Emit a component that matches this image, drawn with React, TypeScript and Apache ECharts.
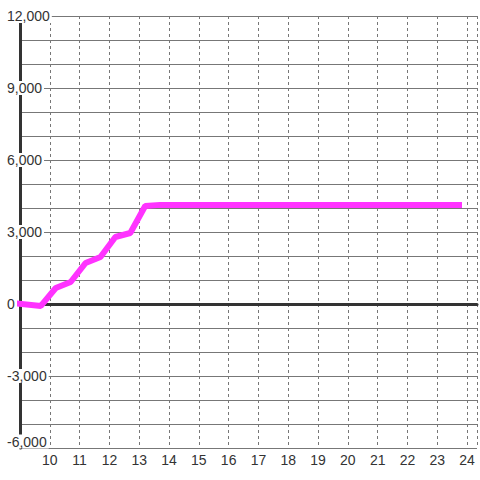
import React, { useEffect, useRef } from "react";
import * as echarts from "echarts";

// Hours of day (x) and cumulative values (y)
const hours = [8.87, 9.7, 10.2, 10.7, 11.2, 11.7, 12.2, 12.7, 13.2, 13.7, 23.83];
const values = [20, -80, 667, 917, 1708, 1958, 2792, 2958, 4083, 4130, 4125];

const xMin = 9;
const xMax = 24.333;
const xLabelHours = [10, 11, 12, 13, 14, 15, 16, 17, 18, 19, 20, 21, 22, 23, 24];
const yTickLabels = [-6000, -3000, 0, 3000, 6000, 9000, 12000];
const yMin = -6000;
const yMax = 12000;

const FONT = "'Liberation Sans', Arial, sans-serif";

export default function App() {
  const ref = useRef<HTMLDivElement>(null);
  useEffect(() => {
    if (!ref.current) return;
    const chart = echarts.init(ref.current, null, { renderer: "svg" });
    const tokenStyle = {
      fontSize: 14,
      fontFamily: FONT,
      color: "#333",
      lineHeight: 14,
      backgroundColor: "#ffffff",
      padding: [0, 2, 0, 0],
    };
    chart.setOption({
      animation: false,
      backgroundColor: "#ffffff",
      grid: { left: 20, right: 0, top: 16, bottom: 32 },
      xAxis: [
        {
          type: "value",
          position: "bottom",
          min: xMin,
          max: xMax,
          interval: 1,
          axisLine: { show: false, onZero: false },
          axisTick: { show: false },
          splitLine: {
            show: true,
            lineStyle: { color: "#777", width: 1, type: [3, 3] },
          },
          axisLabel: {
            margin: 5,
            color: "#333",
            fontSize: 14,
            fontFamily: FONT,
            formatter: (v: number) =>
              xLabelHours.indexOf(v) >= 0 ? String(v) : "",
          },
        },
        {
          type: "value",
          position: "top",
          min: xMin,
          max: xMax,
          interval: 1,
          z: 1,
          axisLine: {
            show: true,
            onZero: true,
            onZeroAxisIndex: 0,
            lineStyle: { color: "#333", width: 3 },
          },
          axisTick: { show: false },
          axisLabel: { show: false },
          splitLine: { show: false },
        },
      ],
      yAxis: {
        type: "value",
        min: yMin,
        max: yMax,
        interval: 1000,
        axisLine: { show: true, onZero: false, lineStyle: { color: "#333", width: 3 } },
        axisTick: { show: false },
        splitLine: { show: true, lineStyle: { color: "#777", width: 1 } },
        axisLabel: {
          align: "left",
          margin: 13,
          color: "#333",
          fontSize: 14,
          fontFamily: FONT,
          formatter: (v: number) => {
            if (yTickLabels.indexOf(v) < 0) return "";
            const s = v.toLocaleString("en-US");
            if (v === yMin) return "{t|" + s + "}\n{sp| }";
            return "{t|" + s + "}";
          },
          rich: {
            t: tokenStyle,
            sp: { fontSize: 10, lineHeight: 13 },
          },
        },
      },
      series: [
        {
          type: "line",
          xAxisIndex: 0,
          data: hours.map((h, i) => [h, values[i]]),
          showSymbol: false,
          symbol: "none",
          clip: false,
          lineStyle: { color: "#ff33ff", width: 6 },
        },
      ],
    });
    return () => chart.dispose();
  }, []);
  return (
    <div
      ref={ref}
      style={{ position: "fixed", left: 0, top: 0, width: 480, height: 480 }}
    />
  );
}
